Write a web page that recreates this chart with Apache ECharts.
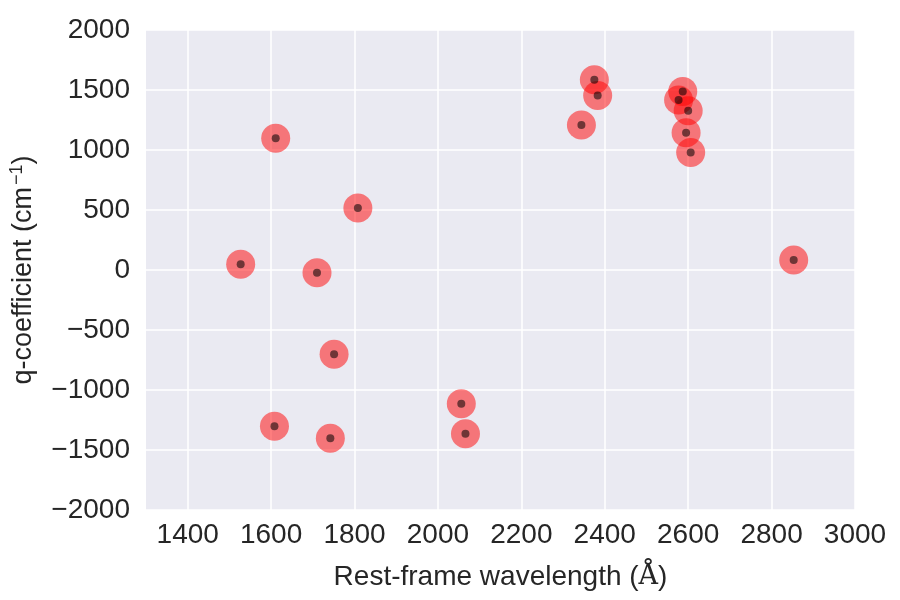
<!DOCTYPE html>
<html>
<head>
<meta charset="utf-8">
<script src="https://cdn.jsdelivr.net/npm/echarts@6/dist/echarts.min.js"></script>
<style>
  html, body { margin: 0; padding: 0; background: #fff; }
  #chart { width: 900px; height: 600px; }
</style>
</head>
<body>
<div id="chart"></div>
<script>
// rest-frame wavelength (Å) and q-coefficient (cm^-1)
var wavelength = [1527, 1611, 1608, 1710, 1742, 1751, 1808, 2056, 2066,
                  2344, 2375, 2383, 2577, 2587, 2595, 2600, 2606, 2853];
var qcoef = [47, 1097, -1303, -22, -1403, -703, 517, -1114, -1364,
             1208, 1586, 1455, 1417, 1488, 1144, 1328, 980, 83];
var xTicks = [1400, 1600, 1800, 2000, 2200, 2400, 2600, 2800, 3000];

var points = wavelength.map(function (w, i) { return [w, qcoef[i]]; });

var chart = echarts.init(document.getElementById('chart'));
var font = '"Liberation Sans", Arial, sans-serif';

chart.setOption({
    backgroundColor: '#ffffff',
    animation: false,
    grid: {
        left: 144,
        right: 45,
        top: 30,
        bottom: 90,
        show: true,
        backgroundColor: '#EAEAF2',
        borderWidth: 0
    },
    xAxis: {
        type: 'value',
        min: 1300,
        max: 3000,
        name: 'Rest-frame wavelength ({s|Å})',
        nameLocation: 'middle',
        nameGap: 53,
        nameTextStyle: {
            color: '#262626',
            fontSize: 28,
            fontFamily: font,
            rich: {
                s: { fontFamily: '"DejaVu Serif", serif', fontSize: 27, color: '#262626' }
            }
        },
        axisLine: { show: false },
        axisTick: { show: false, customValues: xTicks },
        axisLabel: {
            customValues: xTicks,
            color: '#262626',
            fontSize: 28,
            fontFamily: font,
            margin: 11,
            formatter: function (v) { return String(v); }
        },
        splitLine: { show: true, lineStyle: { color: '#ffffff', width: 1.5 } }
    },
    yAxis: {
        type: 'value',
        min: -2000,
        max: 2000,
        interval: 500,
        name: 'q-coefficient (cm{sup|−1})',
        nameLocation: 'middle',
        nameGap: 106,
        nameTextStyle: {
            color: '#262626',
            fontSize: 27,
            fontFamily: font,
            rich: {
                sup: { fontSize: 18, verticalAlign: 'top', color: '#262626', fontFamily: font, padding: [0, 0, 14, 2] }
            }
        },
        axisLine: { show: false },
        axisTick: { show: false },
        axisLabel: {
            color: '#262626',
            fontSize: 28,
            fontFamily: font,
            margin: 16,
            formatter: function (v) { return String(v).replace('-', '−'); }
        },
        splitLine: { show: true, lineStyle: { color: '#ffffff', width: 1.5 } }
    },
    series: [
        {
            name: 'outer',
            type: 'scatter',
            data: points,
            symbolSize: 29,
            itemStyle: { color: 'rgba(255,0,0,0.5)', opacity: 1 },
            z: 2
        },
        {
            name: 'inner',
            type: 'scatter',
            data: points,
            symbolSize: 8,
            itemStyle: { color: 'rgba(0,0,0,0.55)', opacity: 1 },
            z: 3
        }
    ]
});
</script>
</body>
</html>
